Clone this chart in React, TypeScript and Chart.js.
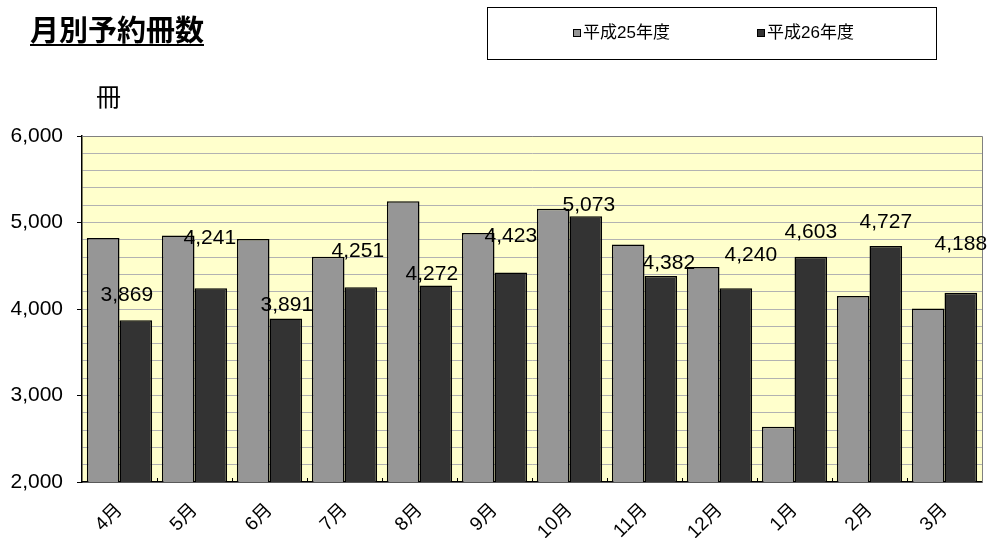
import React, { useEffect, useRef } from "react";
import { Chart, registerables } from "chart.js";
Chart.register(...registerables);

const title = "月別予約冊数";
const unitLabel = "冊";
const months = ["4月", "5月", "6月", "7月", "8月", "9月", "10月", "11月", "12月", "1月", "2月", "3月"];
const seriesNames = ["平成25年度", "平成26年度"];
const fy25 = [4820, 4850, 4810, 4605, 5245, 4880, 5160, 4745, 4485, 2640, 4150, 4005];
const fy26 = [3869, 4241, 3891, 4251, 4272, 4423, 5073, 4382, 4240, 4603, 4727, 4188];
const yMin = 2000;
const yMax = 6000;
const yMajor = 1000;
const yMinor = 200;

// manual label nudges (pixels) for FY26 value labels, as placed in the original
const labelDx = [-9, -1, 1, -3, -4, 0, 3, 8, 15, 0, 0, 0];
const labelDy = [-25, -50, -13, -36, -11, -36, -11, -13, -33, -25, -24, -49];

const FONT = "'Liberation Sans', 'Noto Sans CJK JP', sans-serif";
const colors = ["#969696", "#333333"];

const decorPlugin = {
  id: "decor",
  beforeDraw(chart: any) {
    const { ctx, chartArea: a } = chart;
    ctx.save();
    ctx.fillStyle = "#ffffff";
    ctx.fillRect(0, 0, chart.width, chart.height);
    ctx.fillStyle = "#ffffcc";
    ctx.fillRect(a.left, a.top, a.right - a.left, a.bottom - a.top);
    ctx.restore();
  },
  afterDatasetsDraw(chart: any) {
    const { ctx, chartArea: a } = chart;
    ctx.save();
    // plot border top/right
    ctx.strokeStyle = "#808080";
    ctx.lineWidth = 1;
    ctx.beginPath();
    ctx.moveTo(a.left, a.top + 0.5);
    ctx.lineTo(a.right + 0.5, a.top + 0.5);
    ctx.lineTo(a.right + 0.5, a.bottom);
    ctx.stroke();
    // category tick marks (inside)
    ctx.strokeStyle = "#000";
    const n = months.length;
    const w = (a.right - a.left) / n;
    for (let i = 1; i < n; i++) {
      const x = Math.round(a.left + w * i) + 0.5;
      ctx.beginPath();
      ctx.moveTo(x, a.bottom);
      ctx.lineTo(x, a.bottom - 4);
      ctx.stroke();
    }
    // value labels
    const meta = chart.getDatasetMeta(1);
    ctx.fillStyle = "#000";
    ctx.font = `21px ${FONT}`;
    ctx.textAlign = "center";
    ctx.textBaseline = "middle";
    meta.data.forEach((bar: any, i: number) => {
      ctx.fillText(fy26[i].toLocaleString("en-US"), bar.x + labelDx[i], bar.y + labelDy[i]);
    });
    // title
    ctx.textAlign = "left";
    ctx.textBaseline = "alphabetic";
    ctx.font = `bold 29px ${FONT}`;
    ctx.fillText(title, 30, 41);
    const tw = ctx.measureText(title).width;
    ctx.fillRect(30, 44, tw, 2);
    // unit
    ctx.font = `25px ${FONT}`;
    ctx.fillText(unitLabel, 96, 106);
    // legend box
    ctx.strokeStyle = "#000";
    ctx.lineWidth = 1;
    ctx.strokeRect(487.5, 7.5, 449, 52);
    const lx = [573, 757];
    ctx.font = `17px ${FONT}`;
    ctx.textBaseline = "middle";
    seriesNames.forEach((name, i) => {
      ctx.fillStyle = colors[i];
      ctx.fillRect(lx[i], 29, 7, 7);
      ctx.strokeStyle = "#000";
      ctx.strokeRect(lx[i] + 0.5, 29.5, 7, 7);
      ctx.fillStyle = "#000";
      ctx.fillText(name, lx[i] + 10, 33.5);
    });
    ctx.restore();
  },
};

export default function App() {
  const ref = useRef<HTMLCanvasElement | null>(null);
  useEffect(() => {
    if (!ref.current) return;
    const chart = new Chart(ref.current, {
      type: "bar",
      data: {
        labels: months,
        datasets: [
          {
            label: seriesNames[0],
            data: fy25,
            backgroundColor: colors[0],
            borderColor: "#000",
            borderWidth: 1.5,
            categoryPercentage: 0.87,
            barPercentage: 1.0,
          },
          {
            label: seriesNames[1],
            data: fy26,
            backgroundColor: colors[1],
            borderColor: "#000",
            borderWidth: 1.5,
            categoryPercentage: 0.87,
            barPercentage: 1.0,
          },
        ],
      },
      options: {
        responsive: false,
        animation: false,
        devicePixelRatio: 1,
        layout: { padding: { top: 136, right: 9, left: 0, bottom: 0 } },
        plugins: { legend: { display: false }, tooltip: { enabled: false }, title: { display: false } },
        scales: {
          x: {
            grid: { display: false },
            border: { display: true, color: "#000", width: 1.5 },
            ticks: {
              color: "#000",
              font: { family: FONT, size: 19 },
              maxRotation: 45,
              minRotation: 45,
              padding: 9,
              autoSkip: false,
            },
            afterFit: (s: any) => {
              s.height = 56;
            },
          },
          y: {
            min: yMin,
            max: yMax,
            grid: {
              color: "#b2b2b2",
              lineWidth: 1,
              tickLength: 5,
              tickColor: (c: any) => (c.tick && c.tick.value % yMajor === 0 ? "#000" : "rgba(0,0,0,0)"),
            },
            border: { display: true, color: "#000", width: 1.5 },
            ticks: {
              stepSize: yMinor,
              autoSkip: false,
              color: "#000",
              padding: 14,
              font: { family: FONT, size: 21 },
              callback: (v: any) => (Number(v) % yMajor === 0 ? Number(v).toLocaleString("en-US") : ""),
            },
            afterFit: (s: any) => {
              s.width = 82;
            },
          },
        },
      },
      plugins: [decorPlugin],
    });
    return () => chart.destroy();
  }, []);
  return (
    <div style={{ position: "fixed", left: 0, top: 0, width: 991, height: 538 }}>
      <canvas ref={ref} width={991} height={538} style={{ width: 991, height: 538 }} />
    </div>
  );
}
